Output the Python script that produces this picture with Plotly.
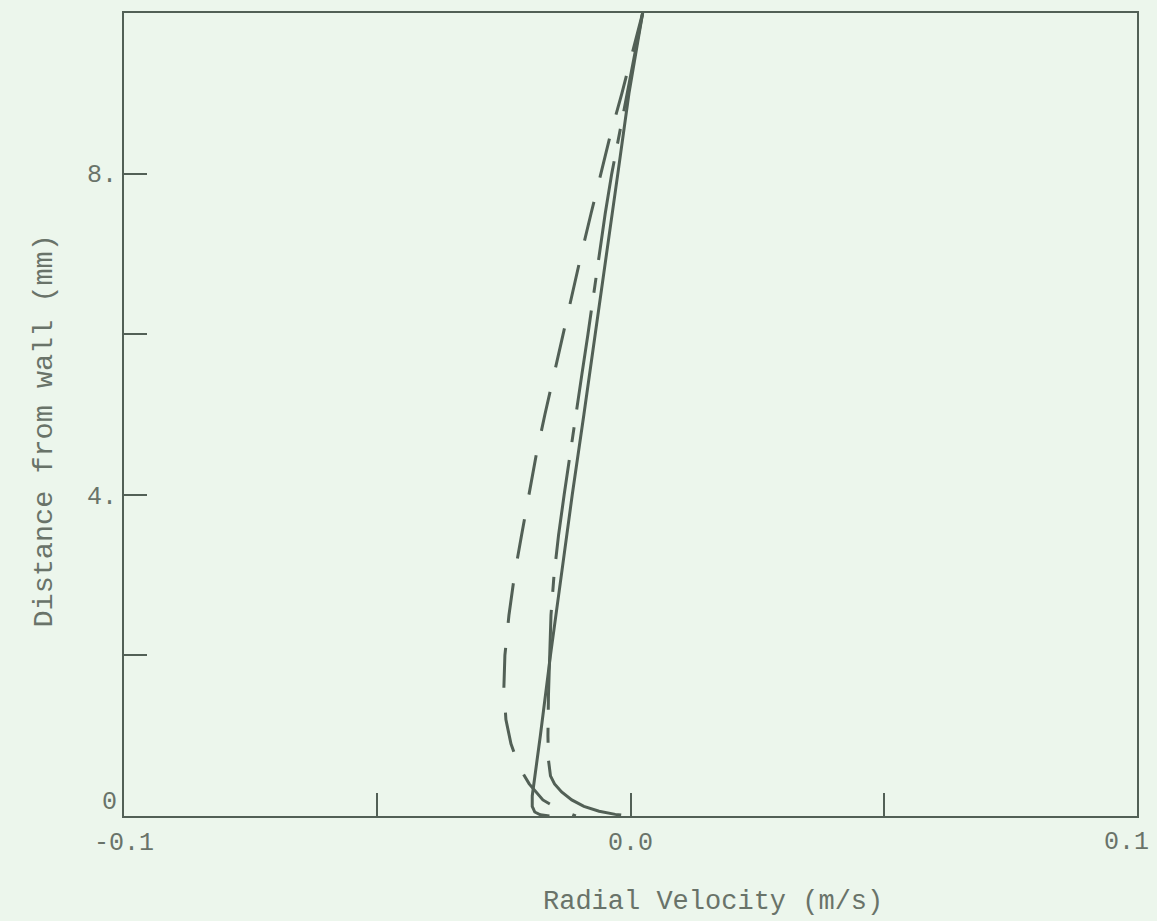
import plotly.graph_objects as go

# Solid profile (velocity m/s, distance mm)
solid_v = [0.0024, 0.0011, -0.0003, -0.0025, -0.0047, -0.0069, -0.0092, -0.0115,
           -0.0137, -0.0158, -0.0178, -0.0189, -0.0194, -0.0194, -0.0189, -0.0178, -0.0160]
solid_y = [10.0, 9.5, 9.0, 8.0, 7.0, 6.0, 5.0, 4.0,
           3.0, 2.0, 1.0, 0.5, 0.25, 0.12, 0.05, 0.015, 0.0]

# Dash-dot profile
dashdot_v = [0.0024, 0.0009, -0.0007, -0.0022, -0.0037, -0.0050, -0.0061, -0.0072,
             -0.0084, -0.0096, -0.0108, -0.0120, -0.0131, -0.0142, -0.0151, -0.0157,
             -0.0160, -0.0162, -0.0163, -0.0162, -0.0158, -0.0150, -0.0136, -0.0116,
             -0.0092, -0.0062, -0.0030, -0.0004]
dashdot_y = [10.0, 9.5, 9.0, 8.5, 8.0, 7.5, 7.0, 6.5,
             6.0, 5.5, 5.0, 4.5, 4.0, 3.5, 3.0, 2.5,
             2.0, 1.5, 1.0, 0.7, 0.5, 0.4, 0.3, 0.2,
             0.12, 0.06, 0.02, 0.0]

# Long-dash profile
longdash_v = [0.0024, 0.0004, -0.0017, -0.0039, -0.0059, -0.0078, -0.0097, -0.0115,
              -0.0133, -0.0152, -0.0169, -0.0186, -0.0201, -0.0215, -0.0229, -0.0240,
              -0.0248, -0.0250, -0.0246, -0.0236, -0.0219, -0.0200, -0.0173, -0.0140,
              -0.0108]
longdash_y = [10.0, 9.5, 9.0, 8.5, 8.0, 7.5, 7.0, 6.5,
              6.0, 5.5, 5.0, 4.5, 4.0, 3.5, 3.0, 2.5,
              2.0, 1.6, 1.2, 0.9, 0.6, 0.4, 0.2, 0.08,
              0.0]

x_tickvals = [-0.1, -0.05, 0.0, 0.05, 0.1]
x_ticktext = ["-0.1", "", "0.0", "", "0.1"]
y_tickvals = [0, 2, 4, 6, 8]
y_ticktext = ["0<br> ", "", "4.", "", "8."]

LINE = "rgb(82,96,86)"
TEXT = "rgb(105,115,105)"
BG = "rgb(236,246,236)"
FONT = "Liberation Mono"

fig = go.Figure()
fig.add_trace(go.Scatter(x=solid_v, y=solid_y, mode="lines",
                         line=dict(color=LINE, width=3),
                         showlegend=False))
fig.add_trace(go.Scatter(x=dashdot_v, y=dashdot_y, mode="lines",
                         line=dict(color=LINE, width=3, dash="100px,18px,15px,18px"),
                         showlegend=False))
fig.add_trace(go.Scatter(x=longdash_v, y=longdash_y, mode="lines",
                         line=dict(color=LINE, width=3, dash="40px,25px"),
                         showlegend=False))

# The right-most x label sits at the page edge, so it is drawn right-anchored
axis_ticktext = x_ticktext[:-1] + [""]

fig.update_layout(
    width=1157, height=921,
    margin=dict(l=124, r=20, t=13, b=105, autoexpand=False),
    paper_bgcolor=BG, plot_bgcolor=BG,
    font=dict(family=FONT, size=25, color=TEXT),
    xaxis=dict(range=[-0.1, 0.1], tickvals=x_tickvals, ticktext=axis_ticktext,
               ticks="inside", ticklen=23, tickwidth=2, tickcolor=LINE,
               showline=True, linecolor=LINE, linewidth=2, mirror=True,
               showgrid=False, zeroline=False, ticklabelstandoff=2,
               automargin=False),
    yaxis=dict(range=[0, 10], tickvals=y_tickvals, ticktext=y_ticktext,
               ticks="inside", ticklen=23, tickwidth=2, tickcolor=LINE,
               showline=True, linecolor=LINE, linewidth=2, mirror=True,
               showgrid=False, zeroline=False, ticklabelstandoff=0,
               automargin=False),
    annotations=[
        dict(text=x_ticktext[-1], xref="x", yref="paper",
             x=x_tickvals[-1], y=-0.0336, xanchor="right", yanchor="middle",
             xshift=14, showarrow=False, font=dict(family=FONT, size=25, color=TEXT)),
        dict(text="Radial Velocity (m/s)", xref="paper", yref="paper",
             x=0.581, y=-0.107, xanchor="center", yanchor="middle",
             showarrow=False, font=dict(family=FONT, size=27, color=TEXT)),
        dict(text="Distance from wall (mm)", xref="paper", yref="paper",
             x=-0.078, y=0.48, xanchor="center", yanchor="middle", textangle=-90,
             showarrow=False, font=dict(family=FONT, size=28.5, color=TEXT)),
    ],
)

fig.write_html("out.html")
